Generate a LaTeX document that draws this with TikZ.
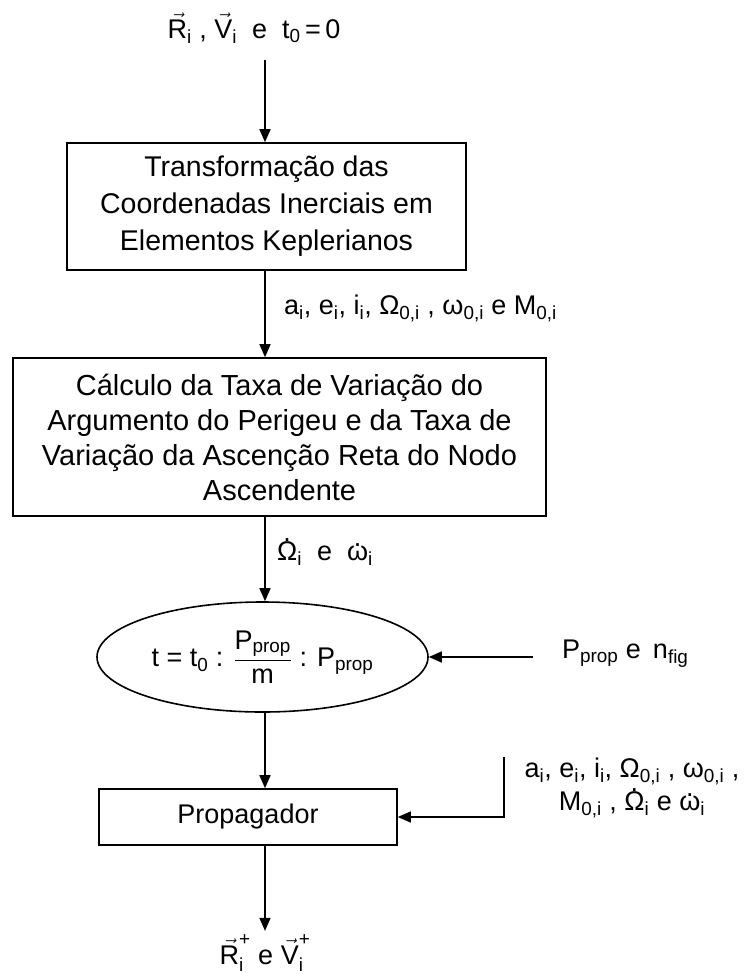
\documentclass[tikz,border=0pt]{standalone}
\usepackage{fontspec}
\setmainfont{Liberation Sans}
\usepackage{amsmath}
\usetikzlibrary{arrows.meta,shapes.geometric}
\newcommand{\myvec}[1]{\ensuremath{\vec{\text{#1}}}}
\newcommand{\lo}[1]{\textsubscript{#1}}
\newcommand{\dotOm}{\ooalign{\hidewidth\raisebox{0.72em}{.}\hidewidth\cr Ω\cr}}
\newcommand{\dotom}{\ooalign{\hidewidth\raisebox{0.52em}{.}\hidewidth\cr ω\cr}}
\begin{document}
\begin{tikzpicture}[x=1pt,y=-1pt,line width=1.6pt,
  >={Triangle[length=13pt,width=11pt]},
  every node/.style={font=\fontsize{27}{33}\selectfont},
  boxA/.style={draw,align=center,inner sep=0pt}]
\useasboundingbox (0,0) rectangle (752,974);
\node (top) at (254,28) {\myvec{R}\lo{i} , \myvec{V}\lo{i} \ e \ t\lo{0}\,=\,0};
\coordinate (s1) at (265,60);
\node[boxA,minimum width=399pt,minimum height=127pt,font=\fontsize{28.5}{37}\selectfont] (b1) at (266.5,206.5)
  {Transformação das\\Coordenadas Inerciais em\\Elementos Keplerianos};
\draw[->] (s1) -- (s1 |- b1.north);
\node[anchor=west] (l1) at (280,308) {a\lo{i}, e\lo{i}, i\lo{i}, Ω\lo{0,i} , ω\lo{0,i} e M\lo{0,i}};
\node[boxA,minimum width=533pt,minimum height=158pt,font=\fontsize{29}{35}\selectfont] (b2) at (279.5,437)
  {Cálculo da Taxa de Variação do\\Argumento do Perigeu e da Taxa de\\Variação da Ascenção Reta do Nodo\\Ascendente};
\draw[->] (b1.south -| s1) -- (b2.north -| s1);
\node[anchor=west] (l2) at (273,552) {\dotOm\lo{i} \ e \ \dotom\lo{i}};
\node[ellipse,draw,minimum width=331pt,minimum height=110pt,inner sep=0pt] (el) at (262.5,657)
  {t = t\lo{0} : $\dfrac{\text{P\lo{prop}}}{\text{m}}$ : P\lo{prop}};
\draw[->] (b2.south -| s1) -- (s1 |- el.north);
\coordinate (r1) at (533,657);
\draw[->] (r1) -- (el.east);
\node[anchor=west] (l3) at (558,654) {P\lo{prop} e \,n\lo{fig}};
\node[boxA,minimum width=298pt,minimum height=56pt] (b3) at (248,817) {Propagador};
\draw[->] (s1 |- el.south) -- (b3.north -| s1);
\coordinate (r2) at (504,757);
\draw[->] (r2) |- (b3.east);
\node[align=center] (l4) at (632,788) {a\lo{i}, e\lo{i}, i\lo{i}, Ω\lo{0,i} , ω\lo{0,i} ,\\M\lo{0,i} , \dotOm\lo{i} e \dotom\lo{i}};
\node (bot) at (265,953) {$\vec{\text{R}}_{\text{i}}^{\text{+}}$ e $\vec{\text{V}}_{\text{i}}^{\text{+}}$};
\draw[->] (b3.south -| s1) -- (bot.north -| s1);
\end{tikzpicture}
\end{document}
